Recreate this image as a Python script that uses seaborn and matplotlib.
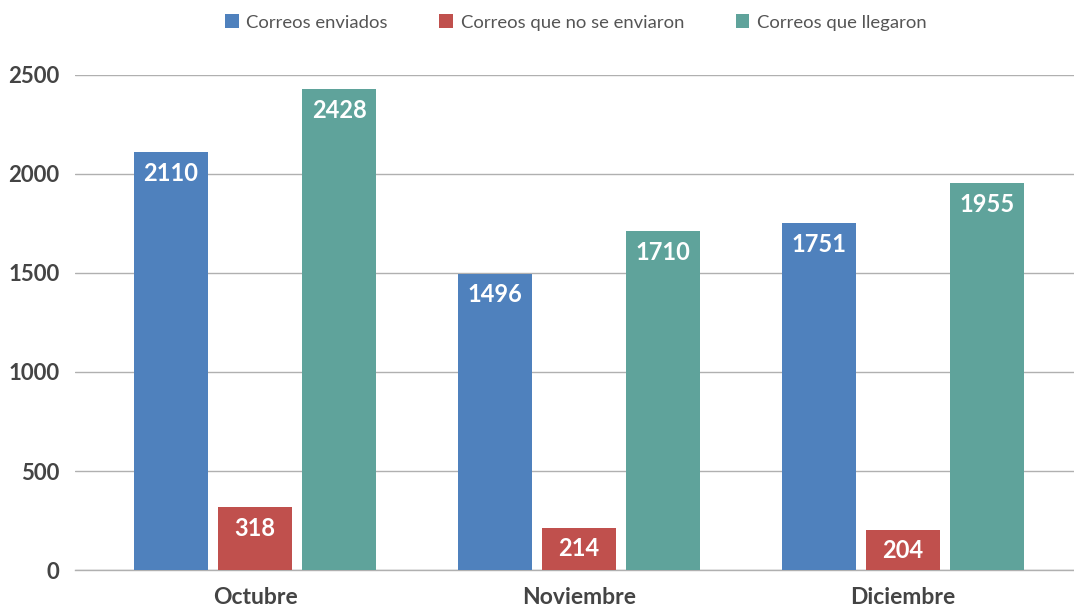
import matplotlib
matplotlib.use("Agg")
import matplotlib.pyplot as plt
import seaborn as sns
import pandas as pd

months = ["Octubre", "Noviembre", "Diciembre"]
series_names = ["Correos enviados", "Correos que no se enviaron", "Correos que llegaron"]
enviados = [2110, 1496, 1751]
no_enviados = [318, 214, 204]
llegaron = [2428, 1710, 1955]
colors = ["#4F81BD", "#C0504D", "#5FA39B"]
yticks = [0, 500, 1000, 1500, 2000, 2500]

rows = []
for name, vals in zip(series_names, [enviados, no_enviados, llegaron]):
    for m, v in zip(months, vals):
        rows.append({"mes": m, "serie": name, "valor": v})
df = pd.DataFrame(rows)

sns.set_theme(style="white")
plt.rcParams["font.family"] = ["Lato", "DejaVu Sans"]

fig = plt.figure(figsize=(10.74, 6.09), dpi=100)
ax = fig.add_axes([0.0698, 0.064, 0.930, 0.813])

sns.barplot(data=df, x="mes", y="valor", hue="serie", order=months,
            hue_order=series_names, palette=colors, width=0.78, gap=0.12,
            saturation=1, linewidth=0, ax=ax, legend=True, errorbar=None)

ax.set_ylim(0, 2500)
ax.set_xlim(-0.556, 2.528)
ax.set_yticks(yticks)
ax.set_yticklabels([str(t) for t in yticks], fontsize=16, fontweight="bold", color="#444444")
ax.tick_params(axis="x", labelsize=16.5, colors="#444444", length=0, pad=12)
for lbl in ax.get_xticklabels():
    lbl.set_fontweight("bold")
ax.tick_params(axis="y", length=0, pad=11)
ax.set_xlabel("")
ax.set_ylabel("")
ax.yaxis.grid(True, color="#b0b0b0", linewidth=1)
ax.set_axisbelow(True)
for s in ["top", "right", "left"]:
    ax.spines[s].set_visible(False)
ax.spines["bottom"].set_color("#b0b0b0")
ax.spines["bottom"].set_linewidth(1)
ax.spines["bottom"].set_zorder(0)

for cont in ax.containers:
    for bar in cont:
        h = bar.get_height()
        ax.annotate(f"{int(h)}", (bar.get_x() + bar.get_width() / 2, h),
                    xytext=(0, -7), textcoords="offset points",
                    ha="center", va="top", color="white", fontsize=17,
                    fontweight="bold")

handles, labels = ax.get_legend_handles_labels()
ax.get_legend().remove()
fig.legend(handles, labels, loc="center", bbox_to_anchor=(0.536, 0.963),
           ncol=3, frameon=False, fontsize=13.3, handlelength=0.75, handleheight=0.75,
           columnspacing=2.8, handletextpad=0.4, labelcolor="#555555")

fig.savefig("out.png", dpi=100)
